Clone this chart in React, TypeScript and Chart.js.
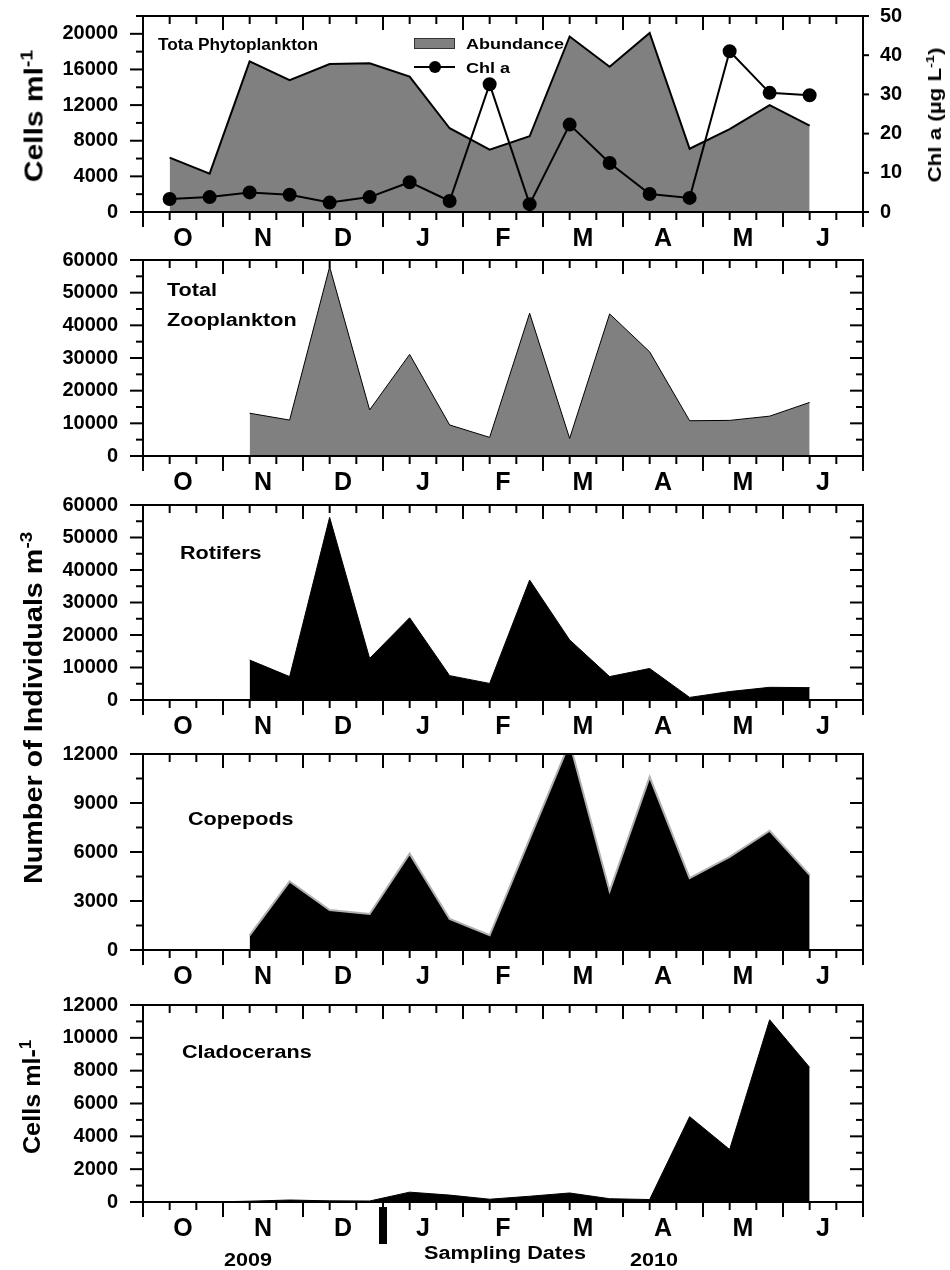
import React, { useEffect, useRef } from 'react';
import { Chart, registerables } from 'chart.js';

Chart.register(...registerables);

// ---------- data ----------
const monthLabels = ['O', 'N', 'D', 'J', 'F', 'M', 'A', 'M', 'J'];
// sampling dates, in months since 1 Oct 2009 (fortnightly)
const samplingMonths = [0.333, 0.833, 1.333, 1.833, 2.333, 2.833, 3.333, 3.833, 4.333, 4.833, 5.333, 5.833, 6.333, 6.833, 7.333, 7.833, 8.333];
const phytoAbundance = [6100, 4300, 16900, 14800, 16600, 16700, 15200, 9400, 7000, 8500, 19700, 16300, 20100, 7100, 9300, 12000, 9700];
const chlA = [3.3, 3.8, 5.0, 4.4, 2.4, 3.8, 7.6, 2.8, 32.6, 2.0, 22.3, 12.5, 4.6, 3.6, 41.0, 30.4, 29.8];
const totalZooplankton = [null, null, 13100, 11000, 57900, 14100, 31100, 9500, 5700, 43700, 5400, 43500, 31900, 10800, 10900, 12200, 16400];
const rotifers = [null, null, 12300, 7200, 56200, 12800, 25300, 7500, 5100, 36900, 18500, 7200, 9700, 800, 2600, 3900, 3800];
const copepods = [null, null, 900, 4200, 2450, 2200, 5900, 1900, 900, 6800, 12700, 3600, 10600, 4400, 5700, 7300, 4600];
const cladocerans = [0, 0, 50, 120, 70, 60, 600, 420, 170, 350, 550, 200, 150, 5200, 3200, 11100, 8200];
const yearBoundary = 3; // 1 Jan 2010, months since 1 Oct 2009

const FONT = "'Liberation Sans', Arial, Helvetica, sans-serif";

const toPoints = (vals: (number | null)[]) => samplingMonths.map((x, i) => ({ x, y: vals[i] }));

// ---------- frame / ticks plugin ----------
const framePlugin = {
  id: 'frame',
  afterDraw(chart: any, _args: any, opts: any) {
    const { ctx, chartArea } = chart;
    const { left, right, top, bottom } = chartArea;
    const xs = chart.scales.x;
    const ys = chart.scales.y;
    ctx.save();
    ctx.strokeStyle = '#000';
    ctx.fillStyle = '#000';
    ctx.lineWidth = 2;
    const seg = (x1: number, y1: number, x2: number, y2: number) => {
      ctx.beginPath();
      ctx.moveTo(x1, y1);
      ctx.lineTo(x2, y2);
      ctx.stroke();
    };
    const nMinor = Math.round((xs.max - xs.min) * 3);
    for (let k = 0; k <= nMinor; k++) {
      const px = xs.getPixelForValue(xs.min + k / 3);
      const major = k % 3 === 0;
      seg(px, bottom, px, bottom + (major ? 15 : 8));
      seg(px, top, px, top + (major ? 14 : 8));
    }
    for (let v = ys.min; v <= ys.max + 1e-6; v += opts.minor) {
      const py = ys.getPixelForValue(v);
      const major = Math.abs(v % opts.major) < 1e-6;
      seg(left - (major ? 13 : 7), py, left, py);
      if (!opts.rightScale) seg(right - (major ? 13 : 7), py, right, py);
    }
    if (opts.rightScale) {
      const y2 = chart.scales[opts.rightScale];
      for (let v = y2.min; v <= y2.max + 1e-6; v += opts.rightStep) {
        const py = y2.getPixelForValue(v);
        seg(right, py, right + 6, py);
      }
    }
    ctx.strokeRect(left, top, right - left, bottom - top);
    if (opts.yearMark != null) {
      const px = xs.getPixelForValue(opts.yearMark);
      ctx.fillRect(px - 4, bottom + 5, 8, 37);
    }
    ctx.restore();
  },
};

const tickFont = { family: FONT, size: 20, weight: 'bold' as const };

function xScale() {
  return {
    type: 'linear',
    min: 0,
    max: 9,
    ticks: {
      stepSize: 0.5,
      autoSkip: false,
      maxRotation: 0,
      padding: 12,
      color: '#000',
      font: { family: FONT, size: 25, weight: 'bold' },
      callback: (v: number) => (Math.abs((v % 1) - 0.5) < 1e-6 ? monthLabels[Math.floor(v)] : ''),
    },
    grid: { display: false, drawTicks: false },
    border: { display: false },
    afterFit: (s: any) => {
      s.height = 44;
      s.paddingLeft = 0;
      s.paddingRight = 0;
    },
  };
}

function fixVertical(width: number) {
  return (s: any) => {
    s.width = width;
    s.paddingTop = 0;
    s.paddingBottom = 0;
  };
}

function yScale(max: number, minor: number, major: number) {
  return {
    type: 'linear',
    position: 'left',
    min: 0,
    max,
    ticks: {
      stepSize: minor,
      autoSkip: false,
      padding: 25,
      color: '#000',
      font: tickFont,
      callback: (v: number) => (Math.abs(v % major) < 1e-6 ? String(v) : ''),
    },
    grid: { display: false, drawTicks: false },
    border: { display: false },
    afterFit: fixVertical(143),
  };
}

function baseOptions(scales: any, frame: any, rightPad: number) {
  return {
    responsive: false,
    animation: false,
    devicePixelRatio: 1,
    layout: { padding: { top: 16, right: rightPad, left: 0, bottom: 0 } },
    plugins: { legend: { display: false }, tooltip: { enabled: false }, frame },
    scales,
  };
}

function areaDataset(label: string, vals: (number | null)[], fill: string, border: string, width: number) {
  return {
    label,
    data: toPoints(vals),
    fill: 'origin',
    backgroundColor: fill,
    borderColor: border,
    borderWidth: width,
    pointRadius: 0,
    tension: 0,
    clip: 0,
  };
}

const configs = [
  {
    top: 0,
    plotH: 196,
    config: {
      type: 'line',
      data: {
        datasets: [
          {
            label: 'Chl a',
            data: toPoints(chlA),
            yAxisID: 'y2',
            borderColor: '#000',
            borderWidth: 2,
            pointRadius: 6,
            pointBackgroundColor: '#000',
            pointBorderColor: '#000',
            fill: false,
            tension: 0,
            order: 0,
          },
          { ...areaDataset('Abundance', phytoAbundance, '#808080', '#000', 2), order: 1 },
        ],
      },
      options: baseOptions(
        {
          x: xScale(),
          y: yScale(22000, 2000, 4000),
          y2: {
            type: 'linear',
            position: 'right',
            min: 0,
            max: 50,
            ticks: { stepSize: 10, autoSkip: false, padding: 17, color: '#000', font: tickFont },
            grid: { display: false, drawTicks: false },
            border: { display: false },
            afterFit: fixVertical(87),
          },
        },
        { minor: 2000, major: 4000, rightScale: 'y2', rightStep: 10 },
        0
      ),
      plugins: [framePlugin],
    },
  },
  {
    top: 244,
    plotH: 196,
    config: {
      type: 'line',
      data: { datasets: [areaDataset('Total Zooplankton', totalZooplankton, '#808080', '#000', 1)] },
      options: baseOptions({ x: xScale(), y: yScale(60000, 5000, 10000) }, { minor: 5000, major: 10000 }, 87),
      plugins: [framePlugin],
    },
  },
  {
    top: 489,
    plotH: 195,
    config: {
      type: 'line',
      data: { datasets: [areaDataset('Rotifers', rotifers, '#000', '#000', 1)] },
      options: baseOptions({ x: xScale(), y: yScale(60000, 5000, 10000) }, { minor: 5000, major: 10000 }, 87),
      plugins: [framePlugin],
    },
  },
  {
    top: 738,
    plotH: 196,
    config: {
      type: 'line',
      data: { datasets: [areaDataset('Copepods', copepods, '#000', '#b0b0b0', 2)] },
      options: baseOptions({ x: xScale(), y: yScale(12000, 1500, 3000) }, { minor: 1500, major: 3000 }, 87),
      plugins: [framePlugin],
    },
  },
  {
    top: 989,
    plotH: 197,
    config: {
      type: 'line',
      data: { datasets: [areaDataset('Cladocerans', cladocerans, '#000', '#000', 1)] },
      options: baseOptions(
        { x: xScale(), y: yScale(12000, 1000, 2000) },
        { minor: 1000, major: 2000, yearMark: yearBoundary },
        87
      ),
      plugins: [framePlugin],
    },
  },
];

function ChartPanel({ top, height, config }: { top: number; height: number; config: any }) {
  const ref = useRef<HTMLCanvasElement>(null);
  useEffect(() => {
    const chart = new Chart(ref.current as HTMLCanvasElement, config);
    return () => chart.destroy();
  }, []);
  return (
    <canvas
      ref={ref}
      width={950}
      height={height}
      style={{ position: 'absolute', left: 0, top, width: 950, height, display: 'block' }}
    />
  );
}

const textBase: React.CSSProperties = {
  position: 'absolute',
  fontFamily: FONT,
  fontWeight: 'bold',
  whiteSpace: 'nowrap',
  lineHeight: 1,
  color: '#000',
};

const supStyle: React.CSSProperties = { fontSize: '0.65em', verticalAlign: '0.6em', lineHeight: 0 };

function Txt({ x, y, size, sx = 1, children }: { x: number; y: number; size: number; sx?: number; children: any }) {
  return (
    <div
      style={{
        ...textBase,
        left: x,
        top: y,
        fontSize: size,
        transform: `translateY(-50%) scaleX(${sx})`,
        transformOrigin: 'left center',
      }}
    >
      {children}
    </div>
  );
}

function VTxt({ cx, cy, size, sx = 1, children }: { cx: number; cy: number; size: number; sx?: number; children: any }) {
  return (
    <div
      style={{
        ...textBase,
        left: cx,
        top: cy,
        fontSize: size,
        transform: `translate(-50%, -50%) rotate(-90deg) scaleX(${sx})`,
        transformOrigin: 'center center',
      }}
    >
      {children}
    </div>
  );
}

export default function App() {
  return (
    <div style={{ position: 'absolute', left: 0, top: 0, width: 950, height: 1270, background: '#fff', overflow: 'hidden' }}>
      {configs.map((c, i) => (
        <ChartPanel key={i} top={c.top} height={16 + c.plotH + 44} config={c.config} />
      ))}

      {/* panel texts */}
      <Txt x={158} y={45} size={16} sx={1.08}>Tota Phytoplankton</Txt>
      <div style={{ position: 'absolute', left: 414, top: 38, width: 41, height: 11, background: '#808080', border: '1px solid #333', boxSizing: 'border-box' }} />
      <Txt x={466} y={43} size={15} sx={1.2}>Abundance</Txt>
      <div style={{ position: 'absolute', left: 414, top: 66, width: 41, height: 2, background: '#000' }} />
      <div style={{ position: 'absolute', left: 429, top: 61, width: 12, height: 12, borderRadius: 6, background: '#000' }} />
      <Txt x={466} y={67} size={15} sx={1.2}>Chl a</Txt>

      <Txt x={167} y={290} size={18} sx={1.2}>Total</Txt>
      <Txt x={167} y={320} size={18} sx={1.2}>Zooplankton</Txt>
      <Txt x={180} y={553} size={18} sx={1.2}>Rotifers</Txt>
      <Txt x={188} y={819} size={18} sx={1.2}>Copepods</Txt>
      <Txt x={182} y={1052} size={18} sx={1.2}>Cladocerans</Txt>

      <Txt x={424} y={1253} size={18} sx={1.2}>Sampling Dates</Txt>
      <Txt x={224} y={1260} size={18} sx={1.2}>2009</Txt>
      <Txt x={630} y={1260} size={18} sx={1.2}>2010</Txt>

      {/* axis titles */}
      <VTxt cx={34} cy={116} size={25} sx={1.2}>
        Cells ml<sup style={supStyle}>-1</sup>
      </VTxt>
      <VTxt cx={33} cy={708} size={25} sx={1.15}>
        Number of Individuals m<sup style={supStyle}>-3</sup>
      </VTxt>
      <VTxt cx={32} cy={1097} size={24} sx={1.05}>
        Cells ml-<sup style={supStyle}>1</sup>
      </VTxt>
      <VTxt cx={935} cy={115} size={18} sx={1.24}>
        Chl a (µg L<sup style={supStyle}>-1</sup>)
      </VTxt>
    </div>
  );
}
